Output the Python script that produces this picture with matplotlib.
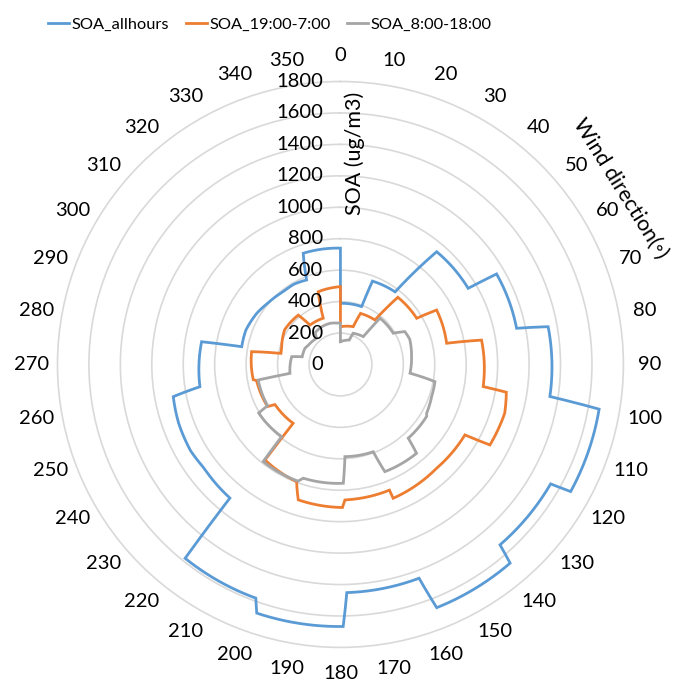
import numpy as np
import matplotlib
matplotlib.use("Agg")
import matplotlib.pyplot as plt
from matplotlib.transforms import offset_copy

plt.rcParams['font.family'] = ['Lato', 'DejaVu Sans']

# Category and radial axis values
wind_dirs = list(range(0, 360, 10))
soa_ticks = list(range(0, 1801, 200))

series_names = ["SOA_allhours", "SOA_19:00-7:00", "SOA_8:00-18:00"]
series_colors = ["#5B9BD5", "#ED7D31", "#A5A5A5"]

# Outline vertices (wind direction in degrees, SOA in ug/m3)
allhours_deg = [0, 20.1, 21.0, 37, 40.5, 59.2, 59.9, 78.4, 79.7, 98.7, 99.8, 118.9,
                119.6, 138.5, 139.5, 158.4, 159.8, 178.4, 179.4, 198.6, 199.9, 218.7,
                219.6, 233, 240, 250, 259.1, 261.0, 279.3, 280.2, 290, 301.4, 310,
                321.8, 330, 338.2, 341.5, 360]
allhours_val = [389, 392, 568, 578, 943, 946, 1148, 1144, 1343, 1348, 1670, 1673,
                1538, 1532, 1662, 1664, 1449, 1452, 1667, 1669, 1581, 1580,
                1103, 1090, 1100, 1095, 1083, 905, 895, 638, 640, 624, 605,
                589, 590, 579, 746, 740]

night_deg = [0, 18.7, 21.5, 37.8, 40.5, 58.8, 60.5, 78.7, 80.2, 98.8, 99.5, 106.5,
             118.3, 119.5, 137.2, 158.5, 158.7, 178.1, 179.2, 197.3, 200.5, 218.3,
             218.8, 238.5, 240, 259.1, 260.1, 278.2, 280.5, 285.4, 301.9, 319.5,
             322.3, 339.6, 343, 360]
night_val = [240, 254, 349, 358, 562, 567, 703, 689, 911, 919, 1070, 1090,
             1080, 910, 900, 915, 858, 862, 910, 902, 796, 774,
             480, 488, 535, 543, 563, 571, 385, 388, 418, 413,
             317, 314, 484, 495]

day_deg = [0, 20, 22, 39.4, 40.5, 59.4, 63, 70, 83.7, 97.2, 100.3, 109.4, 119.5,
           121, 137.4, 139.4, 157.5, 159.4, 177.2, 178.6, 198.1, 200, 218.5,
           219.2, 239.3, 240.5, 259.3, 260, 279.1, 281.4, 294.5, 301, 318, 321,
           333.6, 345.7, 360]
day_val = [145, 165, 214, 229, 387, 390, 460, 469, 455, 446, 611, 615, 630,
           640, 637, 744, 738, 593, 587, 756, 761, 790, 789,
           592, 605, 532, 532, 326, 314, 248, 248, 238, 225, 258,
           268, 270, 262]

fig = plt.figure(figsize=(6.81, 6.82), dpi=100)
ax = fig.add_axes([0.0844, 0.0506, 0.831, 0.830], projection='polar')
ax.set_theta_zero_location('N')
ax.set_theta_direction(-1)
ax.set_ylim(0, 1800)
ax.set_xticks([])
ax.set_yticks(soa_ticks[1:-1])
ax.set_yticklabels([])
ax.yaxis.grid(True, color='#D9D9D9', lw=1.2)
ax.spines['polar'].set_color('#D9D9D9')
ax.spines['polar'].set_linewidth(1.2)
ax.tick_params(length=0)

for deg, val, name, color in zip([allhours_deg, night_deg, day_deg],
                                 [allhours_val, night_val, day_val],
                                 series_names, series_colors):
    theta = np.deg2rad(np.append(deg, 360))
    r = np.append(val, val[0])
    ln, = ax.plot(theta, r, color=color, lw=2, label=name, solid_joinstyle='miter')
    ln.get_path()._interpolation_steps = 60

# Radial value labels along the 0-degree spoke
lab_tr = offset_copy(ax.transData, fig=fig, x=-17.5, y=0, units='dots')
for v in soa_ticks:
    ax.text(0, v, str(v), transform=lab_tr, ha='right', va='center',
            fontsize=14.5, clip_on=False)

# Wind direction labels around the rim
for d in wind_dirs:
    ax.text(np.deg2rad(d), 1965, str(d), ha='center', va='center',
            fontsize=14.5, clip_on=False)

fig.text(355 / 681, 1 - 153 / 682, "SOA (ug/m3)", rotation=90,
         ha='center', va='center', fontsize=15.5)
fig.text(620 / 681, 1 - 188 / 682, "Wind direction(\u25e6)", rotation=-58,
         ha='center', va='center', rotation_mode='anchor', fontsize=15.5)

fig.legend(loc='center left', bbox_to_anchor=(48 / 681, 1 - 25 / 682), ncol=3,
           frameon=False, handlelength=1.3, handletextpad=0.15,
           columnspacing=1.0, borderpad=0, borderaxespad=0, fontsize=11.8)

fig.savefig("out.png", dpi=100, facecolor='white')
